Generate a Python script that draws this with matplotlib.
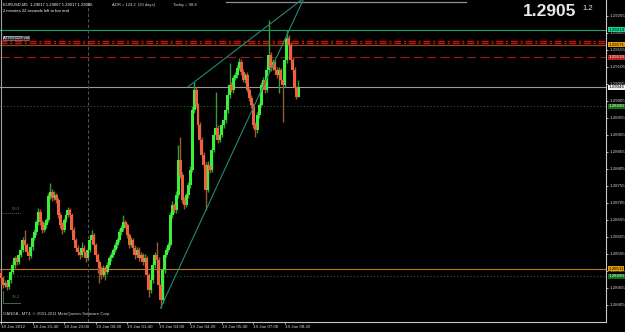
import matplotlib.pyplot as plt
from matplotlib.transforms import blended_transform_factory
import numpy as np

plt.rcParams['font.family'] = ['Liberation Sans', 'DejaVu Sans']

# EURUSD M5 bars, prices as points above 1.28000 (1 point = 0.00001)
base = 1.28
opens_pts = [500, 484, 464, 470, 458, 479, 502, 523, 543, 531,
             552, 567, 596, 581, 561, 549, 576, 602, 620, 649,
             678, 649, 626, 640, 655, 726, 737, 720, 728, 714,
             670, 640, 626, 655, 670, 684, 670, 626, 596, 573,
             561, 552, 573, 561, 543, 567, 596, 611, 581, 552,
             531, 514, 493, 514, 502, 523, 543, 552, 567, 581,
             596, 620, 631, 649, 640, 611, 581, 596, 573, 552,
             567, 543, 552, 531, 543, 493, 449, 479, 523, 552,
             537, 464, 420, 508, 552, 567, 581, 670, 699, 684,
             728, 831, 787, 714, 699, 728, 758, 802, 978, 1037,
             993, 934, 890, 846, 817, 743, 817, 802, 861, 905,
             926, 890, 905, 934, 949, 978, 1023, 1052, 1037, 1073,
             1081, 1102, 1120, 1090, 1067, 1081, 1037, 1014, 993, 934,
             920, 964, 993, 1052, 1067, 1037, 1096, 1140, 1102, 1120,
             1096, 1081, 1096, 1067, 1052, 1126, 1190, 1170, 1126, 1096,
             1043, 1017]
highs_pts = [512, 490, 478, 474, 488, 507, 535, 549, 551, 558,
             575, 605, 626, 588, 570, 584, 611, 628, 655, 690,
             686, 655, 648, 662, 735, 764, 745, 740, 734, 720,
             678, 648, 662, 676, 693, 690, 676, 634, 603, 582,
             568, 590, 580, 567, 575, 604, 625, 617, 588, 558,
             538, 520, 522, 520, 530, 550, 560, 573, 590, 603,
             628, 640, 670, 656, 647, 618, 604, 602, 580, 575,
             575, 560, 558, 555, 550, 500, 486, 530, 560, 590,
             545, 470, 515, 560, 575, 590, 678, 710, 706, 740,
             876, 900, 795, 722, 735, 766, 815, 990, 1061, 1045,
             1000, 942, 898, 855, 825, 828, 824, 870, 912, 1031,
             934, 912, 942, 958, 986, 1030, 1117, 1060, 1080, 1090,
             1110, 1130, 1128, 1098, 1088, 1090, 1044, 1022, 1000, 942,
             972, 1000, 1060, 1075, 1074, 1105, 1243, 1148, 1128, 1127,
             1104, 1105, 1103, 1075, 1135, 1214, 1200, 1178, 1135, 1104,
             1050, 1067]
lows_pts = [476, 455, 458, 450, 452, 470, 496, 515, 522, 527,
            546, 560, 570, 552, 538, 543, 568, 596, 612, 641,
            640, 617, 620, 632, 650, 718, 712, 714, 705, 660,
            630, 615, 620, 648, 664, 662, 618, 588, 565, 552,
            540, 545, 552, 532, 537, 560, 588, 572, 545, 500,
            470, 482, 486, 478, 495, 516, 535, 546, 560, 574,
            590, 612, 624, 632, 602, 572, 575, 565, 540, 546,
            535, 536, 522, 524, 485, 429, 440, 470, 515, 528,
            455, 396, 412, 500, 545, 560, 575, 662, 676, 675,
            720, 778, 705, 688, 692, 720, 750, 795, 970, 985,
            926, 880, 838, 808, 684, 736, 794, 796, 854, 898,
            882, 884, 898, 926, 940, 970, 1015, 1030, 1028, 1066,
            1074, 1095, 1082, 1060, 1058, 1030, 1006, 985, 925, 899,
            912, 956, 986, 1045, 1028, 1030, 1090, 1094, 1095, 1085,
            1072, 1028, 1060, 943, 1045, 1118, 1162, 1118, 1088, 1035,
            1010, 1017]
closes_pts = [484, 464, 470, 458, 479, 502, 523, 543, 531, 552,
              567, 596, 581, 561, 549, 576, 602, 620, 649, 678,
              649, 626, 640, 655, 726, 737, 720, 728, 714, 670,
              640, 626, 655, 670, 684, 670, 626, 596, 573, 561,
              552, 573, 561, 543, 567, 596, 611, 581, 552, 531,
              514, 493, 514, 502, 523, 543, 552, 567, 581, 596,
              620, 631, 649, 640, 611, 581, 596, 573, 552, 567,
              543, 552, 531, 543, 493, 449, 479, 523, 552, 537,
              464, 420, 508, 552, 567, 581, 670, 699, 684, 728,
              831, 787, 714, 699, 728, 758, 802, 978, 1037, 993,
              934, 890, 846, 817, 743, 817, 802, 861, 905, 926,
              890, 905, 934, 949, 978, 1023, 1052, 1037, 1073, 1081,
              1102, 1120, 1090, 1067, 1081, 1037, 1014, 993, 934, 920,
              964, 993, 1052, 1067, 1037, 1096, 1140, 1102, 1120, 1096,
              1081, 1096, 1067, 1052, 1126, 1190, 1170, 1126, 1096, 1043,
              1017, 1046]

time_ticks = [0, 16, 32, 48, 64, 80, 96, 112, 128, 144]
time_labels = ['18 Jan 2012', '18 Jan 21:40', '18 Jan 23:00', '19 Jan 00:20',
               '19 Jan 01:40', '19 Jan 03:00', '19 Jan 04:20', '19 Jan 05:40',
               '19 Jan 07:00', '19 Jan 08:20']
price_ticks = [1.29255, 1.29205, 1.29155, 1.29105, 1.29055, 1.29005, 1.28955,
               1.28905, 1.28855, 1.28805, 1.28755, 1.28705, 1.28655, 1.28605,
               1.28555, 1.28505, 1.28455, 1.28405]

# horizontal levels: (price, colour, style, width)
levels = [(1.29214, '#11a878', '-', 0.8),
          (1.29182, '#d01010', (0, (5, 2, 1.5, 2)), 1.0),
          (1.29176, '#d01010', (0, (5, 2, 1.5, 2)), 1.0),
          (1.29171, '#8a4a10', '-', 0.9),
          (1.29133, '#a01818', (0, (8, 4)), 0.8),
          (1.29046, '#9a9a9a', '-', 0.8),
          (1.28990, '#1d6a1d', (0, (1, 2)), 0.8),
          (1.28511, '#c07818', '-', 0.8),
          (1.28490, '#1d6a1d', (0, (1, 2)), 0.8)]
# price boxes on the right scale: (price, text, face, text colour)
boxes = [(1.29214, '1.29214', '#10d890', 'black'),
         (1.29171, '1.29171', '#e8a000', 'black'),
         (1.29133, '1.29133', '#b82020', 'white'),
         (1.29046, '1.29046', '#f0f0f0', 'black'),
         (1.28990, '1.28990', '#107010', 'white'),
         (1.28511, '1.28511', '#e8a000', 'black'),
         (1.28490, '1.28490', '#107010', 'white')]

# trend lines from two anchor bars (bar index, points)
trend_lines = [((81, 396), (104, 684)),
               ((95, 1047), (136, 1229))]
# gray segment near the top edge: (start bar, end bar, price)
top_segment = (114, 236, 1.29297)

o = base + np.array(opens_pts) / 1e5
h = base + np.array(highs_pts) / 1e5
l = base + np.array(lows_pts) / 1e5
c = base + np.array(closes_pts) / 1e5
idx = np.arange(len(c))
up = c >= o

fig = plt.figure(figsize=(6.25, 3.32), dpi=100, facecolor='black')
ax = fig.add_axes([0, 10 / 332, 606 / 625, 322 / 332], facecolor='black')
ax.set_xlim(-0.5, 307.1)
ax.set_ylim(1.28355, 1.29302)

for (p, col, ls, w) in levels:
    ax.axhline(p, color=col, lw=w, ls=ls, zorder=1)
ax.axvline(44, color='#505050', lw=0.8, ls=(0, (3, 2)), zorder=1)
ax.plot(top_segment[:2], [top_segment[2]] * 2, color='#909090', lw=0.9, zorder=1)

ax.vlines(idx[up], l[up], h[up], color='#3a9a3a', lw=1.0, zorder=2)
ax.vlines(idx[~up], l[~up], h[~up], color='#9a5a35', lw=1.0, zorder=2)
body_lo = np.minimum(o, c)
body_h = np.maximum(np.abs(c - o), 0.00002)
ax.bar(idx[up], body_h[up], bottom=body_lo[up], width=1.5, color='#3af03a', lw=0, zorder=3)
ax.bar(idx[~up], body_h[~up], bottom=body_lo[~up], width=1.5, color='#f0603c', lw=0, zorder=3)

for (x1, y1), (x2, y2) in trend_lines:
    slope = (y2 - y1) / (x2 - x1)
    x_end = 320
    ax.plot([x1, x_end], [base + y1 / 1e5, base + (y1 + slope * (x_end - x1)) / 1e5],
            color='#1f8a78', lw=0.8, zorder=4)

# fibonacci marks on the left
bt = blended_transform_factory(ax.transAxes, ax.transData)
ax.plot([0.004, 0.033], [1.28676, 1.28676], transform=bt, color='#606060', lw=0.7, ls=(0, (1, 1)))
ax.text(0.033, 1.28682, '50.0', transform=bt, ha='right', va='bottom', color='#707070', fontsize=3.1)
ax.plot([0.005, 0.033], [1.28411, 1.28411], transform=bt, color='#3a6a4a', lw=0.7)
ax.plot([0.005, 0.005], [1.28411, 1.28445], transform=bt, color='#3a6a4a', lw=0.7)
ax.text(0.033, 1.28422, '38.2', transform=bt, ha='right', va='bottom', color='#3a7a5a', fontsize=3.1)

ax.yaxis.tick_right()
ax.set_yticks(price_ticks)
ax.set_yticklabels(['%.5f' % p for p in price_ticks])
ax.set_xticks(time_ticks)
ax.set_xticklabels(time_labels, ha='left')
ax.tick_params(axis='both', colors='#d0d0d0', labelsize=3.2, length=1.5, width=0.6, pad=0.8)
for s in ['top', 'left']:
    ax.spines[s].set_visible(False)
for s in ['bottom', 'right']:
    ax.spines[s].set_color('#c8c8c8')
    ax.spines[s].set_linewidth(0.8)
ax.axvline(-0.1, color='#a0a0a0', lw=0.8)

for (p, txt, face, tc) in boxes:
    ax.text(1.004, p, txt, transform=bt, ha='left', va='center', fontsize=3.2, color=tc,
            bbox=dict(boxstyle='square,pad=0.12', fc=face, ec='none'), zorder=6, clip_on=False)

W, H = 625, 332
fig.text(3 / W, 1 - 5 / H, 'EURUSD,M5  1.29017 1.29067 1.29017 1.29046', color='white',
         fontsize=3.0, va='center')
fig.text(112 / W, 1 - 5 / H, 'ADR = 124.2  (30 days)', color='#d0d0d0', fontsize=3.0, va='center')
fig.text(173 / W, 1 - 5 / H, 'Today = 98.8', color='#d0d0d0', fontsize=3.0, va='center')
fig.text(3 / W, 1 - 10.5 / H, '2 minutes 22 seconds left to bar end', color='white',
         fontsize=3.0, va='center')
fig.text(3 / W, 1 - 38 / H, 'ATR50029 val', color='white', fontsize=3.0, va='center',
         bbox=dict(boxstyle='square,pad=0.1', fc='#303030', ec='#a0a0a0', lw=0.4))
fig.text(576 / W, 1 - 12 / H, '1.2905', color='#e8e8e8', fontsize=12.5, fontweight='bold',
         ha='right', va='center')
fig.text(582 / W, 1 - 8 / H, '1.2', color='#e8e8e8', fontsize=5.5, va='center')
fig.text(3 / W, 1 - 314 / H, 'OANDA - MT4, \u00a9 2001-2011 MetaQuotes Software Corp.',
         color='#d0d0d0', fontsize=3.1, va='center')

fig.savefig('out.png', dpi=100, facecolor='black')
